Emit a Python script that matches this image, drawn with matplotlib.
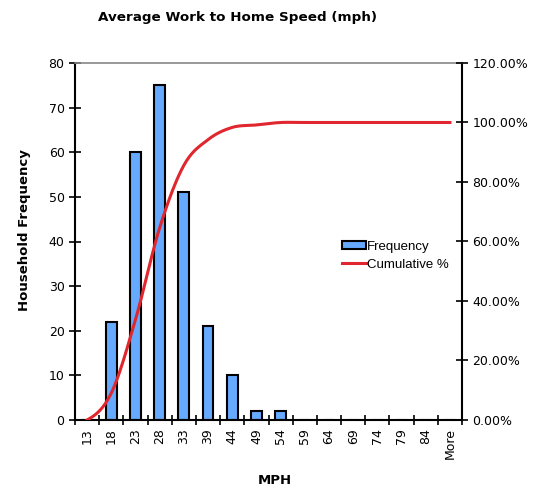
import numpy as np
import matplotlib
matplotlib.use("Agg")
from matplotlib import pyplot as plt
from matplotlib.patches import Patch
from matplotlib.lines import Line2D

categories = ["13", "18", "23", "28", "33", "39", "44", "49", "54", "59",
              "64", "69", "74", "79", "84", "More"]
frequency = [0, 22, 60, 75, 51, 21, 10, 2, 2, 0, 0, 0, 0, 0, 0, 0]
cumulative_pct = [0.0, 9.05, 33.74, 64.61, 85.60, 94.24, 98.35, 99.18, 100.0,
                  100.0, 100.0, 100.0, 100.0, 100.0, 100.0, 100.0]


def smooth(xs, ys, n=20):
    # catmull-rom style smoothing, like the spreadsheet's smoothed line
    xs = np.asarray(xs, float)
    ys = np.asarray(ys, float)
    px = np.concatenate([[2 * xs[0] - xs[1]], xs, [2 * xs[-1] - xs[-2]]])
    py = np.concatenate([[ys[0]], ys, [ys[-1]]])
    ox, oy = [], []
    for i in range(1, len(px) - 2):
        t = np.linspace(0, 1, n, endpoint=False)
        for p, o in ((px, ox), (py, oy)):
            p0, p1, p2, p3 = p[i - 1], p[i], p[i + 1], p[i + 2]
            o.extend(0.5 * (2 * p1 + (-p0 + p2) * t
                            + (2 * p0 - 5 * p1 + 4 * p2 - p3) * t ** 2
                            + (-p0 + 3 * p1 - 3 * p2 + p3) * t ** 3))
    ox.append(xs[-1])
    oy.append(ys[-1])
    return np.array(ox), np.array(oy)


bar_color = "#66AAFF"
line_color = "#E0262E"
legend_font = ["Liberation Sans", "DejaVu Sans"]

fig = plt.figure(figsize=(5.42, 4.92), dpi=100)
ax = fig.add_axes([75 / 542, 1 - 420 / 492, 387 / 542, 357 / 492])
x = np.arange(len(categories))

ax.bar(x, frequency, width=0.45, color=bar_color, edgecolor="black", linewidth=1.5, zorder=2)
ax.set_xlim(-0.5, len(categories) - 0.5)
ax.set_ylim(0, 80)
ax.set_yticks(range(0, 81, 10))
ax.set_xticks(np.arange(-0.5, len(categories), 1.0))
ax.set_xticklabels([])
ax.set_xticks(x, minor=True)
ax.set_xticklabels(categories, minor=True, rotation=90, fontsize=9)
ax.tick_params(axis="x", which="major", direction="inout", length=7, width=1.2)
ax.tick_params(axis="x", which="minor", length=0, pad=6)
ax.tick_params(axis="y", direction="inout", length=8, width=1.2, labelsize=9)
for s in ("left", "bottom", "right"):
    ax.spines[s].set_linewidth(1.5)
ax.spines["top"].set_color("#888888")
ax.spines["top"].set_linewidth(1.2)

ax2 = ax.twinx()
sx, sy = smooth(x, np.array(cumulative_pct) / 100)
ax2.plot(sx, sy, color=line_color, linewidth=2.2, zorder=3)
ax2.set_ylim(0, 1.2)
ax2.set_yticks(np.arange(0, 1.21, 0.2))
ax2.set_yticklabels(["%.2f%%" % (v * 100) for v in np.arange(0, 1.21, 0.2)], fontsize=9)
ax2.tick_params(axis="y", direction="inout", length=8, width=1.2)
for s in ax2.spines.values():
    s.set_visible(False)

fig.text(238 / 542, 1 - 18 / 492, "Average Work to Home Speed (mph)",
         ha="center", va="center", fontsize=9.7, fontweight="bold")
fig.text(25 / 542, 1 - 230 / 492, "Household Frequency", rotation=90,
         ha="center", va="center", fontsize=9.5, fontweight="bold")
fig.text(275 / 542, 1 - 480 / 492, "MPH", ha="center", va="center",
         fontsize=9.5, fontweight="bold")

handles = [Patch(facecolor=bar_color, edgecolor="black", linewidth=1.5),
           Line2D([0], [0], color=line_color, linewidth=2.2)]
ax2.legend(handles, ["Frequency", "Cumulative %"], loc="upper left",
           bbox_to_anchor=(330 / 542, 1 - 229 / 492), bbox_transform=fig.transFigure,
           frameon=False, prop={"family": legend_font, "size": 9.5},
           handlelength=1.8, handleheight=0.6, handletextpad=0.1, labelspacing=0.45)

fig.savefig("out.png", dpi=100)
